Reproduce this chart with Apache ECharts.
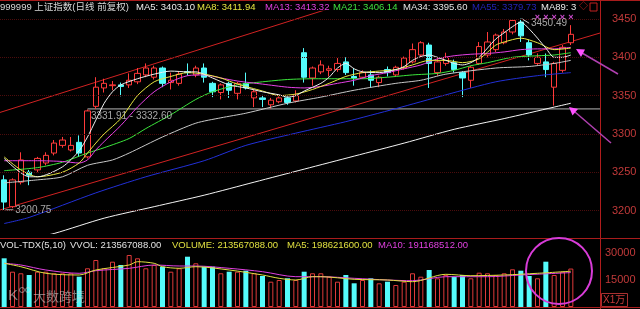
<!DOCTYPE html>
<html><head><meta charset="utf-8">
<script src="https://cdn.jsdelivr.net/npm/echarts@6/dist/echarts.min.js"></script>
<style>html,body{margin:0;padding:0;background:#000;}#c{width:640px;height:309px;}</style>
</head><body><div id="c"></div>
<script>
// ---------- data ----------
const categories = Array.from({length: 72}, (_, i) => 'D' + (i + 1));
const opens  = [3240,3205,3237,3250,3253,3262,3275,3285,3279,3289,3270,3336,3360,3363,3364,3364,3368,3377,3374,3386,3367,3366,3381,3377,3386,3366,3354,3366,3353,3366,3347,3347,3338,3342,3347,3343,3406,3373,3381,3383,3384,3394,3375,3374,3377,3367,3384,3377,3386,3394,3403,3416,3380,3392,3393,3380,3370,3392,3403,3410,3419,3433,3446,3419,3392,3394,3361,3383,3419];
const closes = [3211,3240,3266,3246,3268,3272,3288,3292,3285,3275,3330,3361,3366,3364,3362,3370,3379,3386,3386,3366,3370,3378,3380,3386,3374,3355,3364,3357,3366,3360,3355,3345,3344,3347,3341,3350,3374,3386,3390,3385,3392,3380,3373,3380,3370,3374,3380,3387,3399,3410,3419,3392,3394,3400,3384,3373,3387,3414,3420,3429,3433,3448,3428,3403,3400,3384,3392,3413,3430];
const lows   = [3200.75,3203,3234,3233,3250,3259,3272,3282,3277,3270,3268,3332.6,3354,3357,3349,3360,3365,3374,3371,3361,3358,3363,3376,3374,3367,3348,3345,3347,3345,3358,3335,3335,3333,3340,3338,3341,3367,3363,3378,3375,3381,3377,3363,3372,3361,3361,3375,3375,3384,3392,3400,3360,3376,3389,3380,3348,3360,3390,3400,3407,3417,3430,3420,3396,3390,3374,3337,3380,3416];
const highs  = [3246,3242,3276,3253,3270,3276,3292,3296,3296,3298,3331.91,3374,3372,3369,3367,3379,3386,3392,3389,3388,3380,3381,3392,3389,3392,3368,3366,3368,3368,3380,3358,3351,3347,3349,3349,3357,3412,3388,3396,3389,3399,3400,3386,3383,3383,3376,3388,3389,3401,3418,3421,3419,3399,3406,3397,3382,3389,3420,3433,3431,3437,3450,3450.49,3423,3405,3405,3394,3416,3442];
// volume, unit: 10k shares
const volumes = [27057,19613,18724,17779,19613,19613,18724,18724,18724,16835,21502,26113,21502,25169,23335,28891,27057,21502,23335,22391,19613,21502,27947,24280,22391,22391,18724,19613,19613,20168,18724,17224,14057,15000,15946,15000,19613,18724,18724,16835,14057,17779,13168,15000,15946,13168,14057,12223,14057,18724,16835,20557,15946,17779,16835,17779,15946,19057,18724,17779,18724,20946,20168,17224,15946,25169,17779,19613,21357];

// moving averages: [day index, value]
const ma5 = [[0,3268],[3,3244],[4,3244],[7,3257],[9,3278],[10,3296],[11,3318],[12,3340],[13,3355],[14,3364],[16,3372],[18,3378],[20,3382],[22,3381],[23,3381],[25,3373],[27,3364],[29,3360],[31,3355],[33,3351],[34,3348],[35,3350],[36,3356],[38,3366],[39,3374],[40,3386],[41,3392],[42,3385],[43,3381],[45,3380],[47,3384],[48,3388],[49,3396],[50,3401],[51,3403],[52,3400],[53,3396],[54,3392],[55,3390],[56,3393],[57,3400],[58,3412],[59,3424],[60,3432],[61,3440],[62,3446],[63,3437],[64,3425],[65,3412],[66,3400],[67,3400],[68,3403]];
const ma8 = [[0,3270],[2,3253],[4,3244],[7,3250],[9,3262],[10,3275],[11,3288],[12,3300],[14,3320],[16,3350],[18,3368],[20,3375],[22,3380],[24,3378],[26,3373],[28,3365],[31,3356],[33,3350],[35,3352],[37,3358],[39,3366],[41,3375],[43,3380],[45,3382],[47,3384],[49,3390],[51,3396],[53,3396],[55,3393],[57,3398],[59,3416],[60,3420],[62,3425],[64,3419],[66,3410],[68,3412]];
const ma13 = [[0,3265],[4,3265],[7,3264],[9,3262],[10,3266],[11,3279],[12,3290],[14,3311],[16,3335],[18,3355],[20,3368],[22,3376],[24,3377],[26,3373],[28,3369],[31,3365],[34,3361],[36,3360],[38,3362],[40,3366],[42,3370],[44,3376],[46,3380],[48,3385],[50,3390],[52,3398],[54,3402],[56,3404],[58,3405],[60,3407],[62,3410],[64,3411],[66,3411],[68,3413]];
const ma21 = [[0,3252],[4,3256],[7,3263],[10,3275],[12,3282],[15,3294],[17,3307],[20,3325],[23,3345],[25,3355],[28,3364],[31,3368],[34,3371],[37,3372],[40,3372],[43,3372],[46,3374],[49,3377],[52,3379],[54,3383],[56,3389],[58,3393],[61,3400],[64,3402],[66,3403],[68,3406]];
const ma34 = [[0,3236],[4,3240],[7,3244],[10,3259],[13,3266],[15,3275],[19,3296],[23,3314],[26,3321],[29,3327],[34,3340],[38,3348],[42,3357],[47,3366],[50,3370],[53,3378],[59,3386],[63,3388],[66,3392],[68,3396]];
const ma55 = [[0,3183],[3,3191],[11,3223],[17,3244],[24,3265],[29,3285],[35,3301],[41,3316],[47,3333],[53,3351],[59,3368],[64,3376],[68,3380]];
const ma89 = [[3,3163],[6,3170],[12,3190],[18,3205],[24,3220],[30,3237],[36,3254],[42,3271],[48,3288],[54,3306],[60,3320],[66,3335],[68,3340]];
const volMa5  = [[0,24280],[2,22390],[5,18720],[9,17780],[11,20557],[15,23335],[16,25170],[18,24280],[19,22390],[21,21500],[23,22390],[27,20557],[31,17780],[33,15946],[35,15000],[37,16835],[38,16835],[42,15390],[46,15000],[49,14057],[53,18168],[56,17390],[60,17780],[64,18724],[68,19862]];
const volMa10 = [[0,24280],[2,23335],[5,20557],[9,18720],[11,20168],[15,21500],[18,23335],[21,22780],[23,22780],[27,21500],[31,19613],[35,16835],[38,16835],[42,15946],[46,15000],[49,14613],[53,16835],[58,16835],[62,17780],[68,19117]];

// trend channel lines and gap line
const channelUpper = [[-0.5,3328],[40,3467]];
const channelLower = [[-0.5,3200.7],[71.5,3431.7]];
const gapLow = 3331.91, gapHigh = 3332.60, gapStartIdx = 10;
const lowMark = [0, 3200.75];
const highMark = [62, 3450.49];
const signalMarks = [[64,3452.5],[65,3452.5],[66,3452.5],[67,3452.5],[68,3452.5]];
const priceTicks = [3200,3250,3300,3350,3400,3450];
const volTicks = [15000,30000];

// ---------- chart ----------
const FONT = '"Liberation Sans","Noto Sans CJK SC",sans-serif';
const chart = echarts.init(document.getElementById('c'));
const isUp = i => closes[i] >= opens[i];
const candleData = opens.map((o, i) => [o, closes[i], lows[i], highs[i]]);
const volData = volumes.map((v, i) => ({
  value: v,
  itemStyle: isUp(i) ? {color: '#000', borderColor: '#e03a3a', borderWidth: 1} : {color: '#54fcfc', borderWidth: 0}
}));
const maLine = (data, color, z) => ({
  type: 'line', xAxisIndex: 1, yAxisIndex: 0, data, symbol: 'none', smooth: 0.25,
  lineStyle: {color, width: 1}, silent: true, z: z || 3, animation: false
});
const plainLine = (data, color, xi, yi) => ({
  type: 'line', xAxisIndex: xi, yAxisIndex: yi, data, symbol: 'none',
  lineStyle: {color, width: 1}, silent: true, z: 1, animation: false
});
const txt = (x, y, text, fill, size) => ({
  type: 'text', x, y, silent: true, z: 20,
  style: {text, fill, font: (size || 9.5) + 'px ' + FONT, verticalAlign: 'middle'}
});
const line = (x1, y1, x2, y2, stroke, w) => ({
  type: 'line', silent: true, z: 15, shape: {x1, y1, x2, y2}, style: {stroke, lineWidth: w || 1}
});

const option = {
  backgroundColor: '#000',
  animation: false,
  grid: [
    {left: 0, right: 40, top: 11.34, height: 222.14},
    {left: 0, right: 40, top: 253, height: 54}
  ],
  xAxis: [
    {type: 'category', gridIndex: 0, data: categories, boundaryGap: true, show: false},
    {type: 'value', gridIndex: 0, min: -0.5, max: 71.5, show: false},
    {type: 'category', gridIndex: 1, data: categories, boundaryGap: true, show: false},
    {type: 'value', gridIndex: 1, min: -0.5, max: 71.5, show: false}
  ],
  yAxis: [
    {type: 'value', gridIndex: 0, position: 'right', min: 3170, max: 3460, interval: 10,
     axisLine: {show: false}, axisTick: {show: false}, splitLine: {show: false},
     axisLabel: {color: '#c23a3a', fontSize: 11, fontFamily: FONT, margin: 12,
       formatter: v => (v % 50 === 0 ? String(v) : '')}},
    {type: 'value', gridIndex: 1, position: 'right', min: 0, max: 30000, interval: 15000,
     axisLine: {show: false}, axisTick: {show: false}, splitLine: {show: false},
     axisLabel: {color: '#c23a3a', fontSize: 11, fontFamily: FONT, margin: 5,
       formatter: v => (volTicks.includes(v) ? String(v) : '')}}
  ],
  series: [
    plainLine(channelUpper, '#d02222', 1, 0),
    plainLine(channelLower, '#d02222', 1, 0),
    plainLine([[gapStartIdx, gapHigh], [71.5, gapHigh]], '#b8b8b8', 1, 0),
    {
      type: 'candlestick', xAxisIndex: 0, yAxisIndex: 0, data: candleData, barWidth: 6,
      itemStyle: {color: '#000', color0: '#54fcfc', borderColor: '#ff3a3a', borderColor0: '#54fcfc', borderWidth: 1},
      z: 2,
      markLine: {
        silent: true, symbol: ['none', 'none'], label: {show: false},
        lineStyle: {color: '#4c0c0c', type: 'dotted', width: 1},
        data: priceTicks.map(v => ({yAxis: v}))
      }
    },
    maLine(ma89, '#f4f4f4'),
    maLine(ma55, '#2230d8'),
    maLine(ma34, '#c8c8c8'),
    maLine(ma21, '#3ce63c'),
    maLine(ma13, '#e640e6'),
    maLine(ma8, '#e8e840'),
    maLine(ma5, '#f0f0f0', 4),
    plainLine([[lowMark[0] + 0.15, lowMark[1]], [lowMark[0] + 1.1, lowMark[1]]], '#d0d0d0', 1, 0),
    plainLine([[highMark[0] + 0.1, highMark[1]], [highMark[0] + 1, highMark[1] - 6]], '#d0d0d0', 1, 0),
    {
      type: 'scatter', xAxisIndex: 1, yAxisIndex: 0, symbolSize: 0.1, silent: true, z: 6,
      itemStyle: {color: 'rgba(0,0,0,0)'},
      data: [
        {value: lowMark, label: {show: true, position: 'right', distance: 11, formatter: String(lowMark[1])}},
        {value: highMark, label: {show: true, position: 'right', distance: 10, offset: [0, 5], formatter: String(highMark[1])}},
        {value: [gapStartIdx + 0.4, gapHigh - 9.5], label: {show: true, position: 'right', distance: 0,
          formatter: gapLow.toFixed(2) + ' - ' + gapHigh.toFixed(2)}}
      ],
      label: {color: '#d0d0d0', fontSize: 10, fontFamily: FONT}
    },
    {
      type: 'scatter', xAxisIndex: 1, yAxisIndex: 0, symbolSize: 0.1, silent: true, z: 6,
      itemStyle: {color: 'rgba(0,0,0,0)'}, data: signalMarks,
      label: {show: true, position: 'inside', formatter: '×', color: '#ff5cff', fontSize: 9, fontWeight: 'bold', fontFamily: FONT}
    },
    {type: 'bar', xAxisIndex: 2, yAxisIndex: 1, data: volData, barWidth: 5, silent: true},
    {type: 'line', xAxisIndex: 3, yAxisIndex: 1, data: volMa10, symbol: 'none', smooth: 0.3,
     lineStyle: {color: '#e040e0', width: 1}, z: 3, silent: true},
    {type: 'line', xAxisIndex: 3, yAxisIndex: 1, data: volMa5, symbol: 'none', smooth: 0.3,
     lineStyle: {color: '#e0e040', width: 1}, z: 3, silent: true}
  ],
  graphic: [
    line(0, 0.5, 640, 0.5, '#a81c1c'),
    line(600.5, 0, 600.5, 309, '#b01c1c'),
    line(0, 238.5, 640, 238.5, '#a81c1c'),
    line(0, 307.5, 640, 307.5, '#a81c1c'),
    txt(0, 7, '999999 上证指数(日线 前复权)', '#d8d8d8'),
    txt(136, 7, 'MA5: 3403.10', '#ececec'),
    txt(197, 7, 'MA8: 3411.94', '#e6e640'),
    txt(265, 7, 'MA13: 3413.32', '#e040e0'),
    txt(333, 7, 'MA21: 3406.14', '#40e040'),
    txt(403, 7, 'MA34: 3395.60', '#e4e4e4'),
    txt(472, 7, 'MA55: 3379.73', '#2424b8'),
    txt(541, 7, 'MA89: 3', '#ececec'),
    txt(579, 7, '◇', '#c02020', 9),
    {type: 'rect', silent: true, z: 20, shape: {x: 590, y: 3, width: 7, height: 8}, style: {stroke: '#c02020', fill: null, lineWidth: 1}},
    txt(0, 245.5, 'VOL-TDX(5,10)', '#e0e0e0'),
    txt(70, 245.5, 'VVOL: 213567088.00', '#e0e0e0'),
    txt(172, 245.5, 'VOLUME: 213567088.00', '#e0e040'),
    txt(287, 245.5, 'MA5: 198621600.00', '#e0e040'),
    txt(378, 245.5, 'MA10: 191168512.00', '#e040e0'),
    {type: 'rect', silent: true, z: 20, shape: {x: 601.5, y: 293.5, width: 26, height: 13}, style: {stroke: '#a83030', fill: null, lineWidth: 1}},
    txt(603, 300.5, 'X1万', '#c83a3a', 10),
    // annotations
    {type: 'circle', silent: true, z: 18, shape: {cx: 559, cy: 271, r: 33}, style: {stroke: '#d83cd8', fill: null, lineWidth: 2}},
    line(618, 74, 582, 53, '#b040b0', 1.5),
    {type: 'polygon', silent: true, z: 18, shape: {points: [[576, 49], [585, 49.5], [581, 57]]}, style: {fill: '#ff50ff'}},
    line(611, 143, 575, 112, '#b040b0', 1.5),
    {type: 'polygon', silent: true, z: 18, shape: {points: [[569, 107], [578, 109], [572.5, 115.5]]}, style: {fill: '#ff50ff'}},
    // watermark
    txt(8, 296, 'K', 'rgba(215,215,215,0.55)', 15),
    {type: 'circle', silent: true, z: 20, shape: {cx: 22, cy: 290, r: 2.5}, style: {stroke: 'rgba(215,215,215,0.55)', fill: null, lineWidth: 1}},
    {type: 'circle', silent: true, z: 20, shape: {cx: 28, cy: 290, r: 2.5}, style: {stroke: 'rgba(215,215,215,0.55)', fill: null, lineWidth: 1}},
    txt(33, 297, '大数跨境', 'rgba(215,215,215,0.55)', 13)
  ]
};
chart.setOption(option);
</script>
</body></html>
